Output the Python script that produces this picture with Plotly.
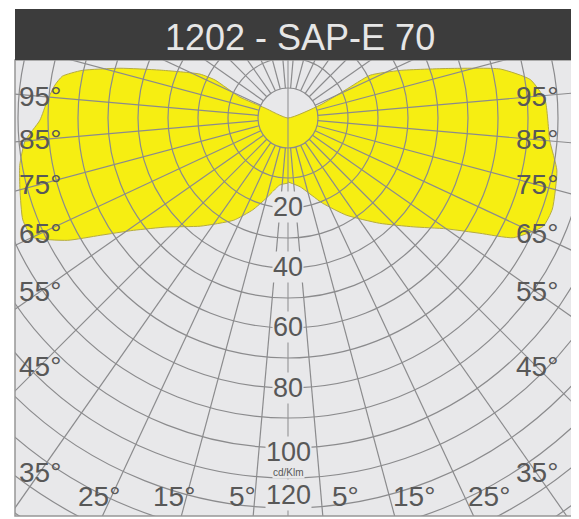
import numpy as np
import plotly.graph_objects as go

title_text = "1202 - SAP-E 70"

# right half (C0): angle from nadir (deg) and intensity (cd/klm)
c0_angles = [0, 10, 22, 31, 41, 49, 55, 59, 62, 67, 71, 79, 85, 94, 99, 103, 107, 113, 117.5, 116, 112]
c0_values = [21.3, 23.3, 30.6, 37.8, 46.5, 55.3, 64.4, 74.6, 85, 92.4, 93.2, 91.3, 87.6, 85.9, 81.8, 72.6, 56.5, 40.6, 30.9, 21.2, 11.5]

# left half (C180)
c180_angles = [0, 7, 15, 21, 28, 39, 48, 54, 58, 61, 65, 69, 75, 80, 85, 89.5, 94, 98, 100.5, 103, 106.5, 110.5, 116.5, 117.5, 113.5, 113.5]
c180_values = [21.7, 22.5, 27.6, 32.8, 38.6, 46.4, 54.3, 63.7, 73.8, 84.1, 94, 94.7, 92.5, 90.8, 88, 82.7, 80.5, 78.5, 76.5, 70.5, 58.4, 45.6, 32.8, 27.4, 17.5, 8.4]

ring_values = list(range(10, 170, 10))
spoke_angles = [5, 15, 25, 35, 45, 55, 65, 75, 85, 95, 105, 115, 125, 135, 145, 155, 165, 175]
radial_labels = ["20", "40", "60", "80", "100", "120"]
radial_label_pos = [29.5, 49.7, 69.7, 90, 111.3, 125.7]
side_labels = [95, 85, 75, 65, 55, 45, 35]
bottom_labels = [25, 15, 5]

grid_col = "#8b8b8d"
txt_col = "#585858"
bg_col = "#e8e8ea"
font = "Liberation Sans, Arial, sans-serif"

th_r = np.radians(c0_angles)
th_l = np.radians(c180_angles)
xr = np.array(c0_values) * np.sin(th_r)
yr = -np.array(c0_values) * np.cos(th_r)
xl = -np.array(c180_values) * np.sin(th_l)
yl = -np.array(c180_values) * np.cos(th_l)
xs = np.concatenate([xr, [0], xl[::-1]])
ys = np.concatenate([yr, [0], yl[::-1]])

fig = go.Figure()
fig.add_trace(go.Scatter(
    x=xs, y=ys, mode="lines", fill="toself",
    fillcolor="#f6ee12", line=dict(color="#b5ab40", width=1, shape="spline", smoothing=0.5),
    hoverinfo="skip"
))

shapes = []
for r in ring_values:
    shapes.append(dict(type="circle", xref="x", yref="y", x0=-r, y0=-r, x1=r, y1=r,
                       line=dict(color=grid_col, width=1.2), layer="above"))
for a in spoke_angles:
    for s in (1, -1):
        t = np.radians(a)
        shapes.append(dict(type="line", xref="x", yref="y",
                           x0=s * 10 * np.sin(t), y0=-10 * np.cos(t),
                           x1=s * 250 * np.sin(t), y1=-250 * np.cos(t),
                           line=dict(color=grid_col, width=1.2), layer="above"))
shapes.append(dict(type="line", xref="x", yref="y", x0=0, y0=-250, x1=0, y1=60,
                   line=dict(color=grid_col, width=1), layer="above"))
# frame + title bar
shapes.append(dict(type="rect", xref="paper", yref="paper", x0=0, x1=1, y0=0, y1=1,
                   line=dict(color="#969696", width=1.5), layer="above"))
shapes.append(dict(type="rect", xref="paper", yref="paper", x0=0, x1=1, y0=1, y1=1 + 51 / 456,
                   line=dict(width=0), fillcolor="#3c3c3c", layer="above"))

ann = [dict(text=title_text, x=0.5 + 6 / 558, y=1 + 22 / 456, xref="paper", yref="paper",
            xanchor="center", yanchor="middle", showarrow=False,
            font=dict(size=36, color="#e6e6e6", family=font))]
for lab, r in zip(radial_labels, radial_label_pos):
    ann.append(dict(text=lab, x=0, y=-r, showarrow=False, bgcolor=bg_col, borderpad=0,
                    font=dict(size=27, color=txt_col, family=font)))
ann.append(dict(text="cd/Klm", x=0, y=-118.3, showarrow=False, bgcolor=bg_col, borderpad=0,
                font=dict(size=10, color=txt_col, family=font)))
for a in side_labels:
    yy = -82.7 / np.tan(np.radians(a))
    for xx in (-82.7, 83):
        ann.append(dict(text=f"{a}°", x=xx, y=yy, showarrow=False,
                        font=dict(size=28, color=txt_col, family=font)))
for a in bottom_labels:
    xx = 126.3 * np.tan(np.radians(a))
    ann.append(dict(text=f"{a}°", x=-xx - 4, y=-126.3, showarrow=False,
                    font=dict(size=28, color=txt_col, family=font)))
    ann.append(dict(text=f"{a}°", x=xx + 8, y=-126.3, showarrow=False,
                    font=dict(size=28, color=txt_col, family=font)))

fig.update_layout(
    width=571, height=511,
    margin=dict(l=7, r=6, t=52, b=3),
    paper_bgcolor="white", plot_bgcolor=bg_col,
    showlegend=False,
    xaxis=dict(range=[(15 - 288) / 3, (573 - 288) / 3], visible=False, fixedrange=True),
    yaxis=dict(range=[-(516 - 118) / 3, (118 - 60) / 3], visible=False, fixedrange=True),
    shapes=shapes, annotations=ann,
)

fig.write_html("out.html")
